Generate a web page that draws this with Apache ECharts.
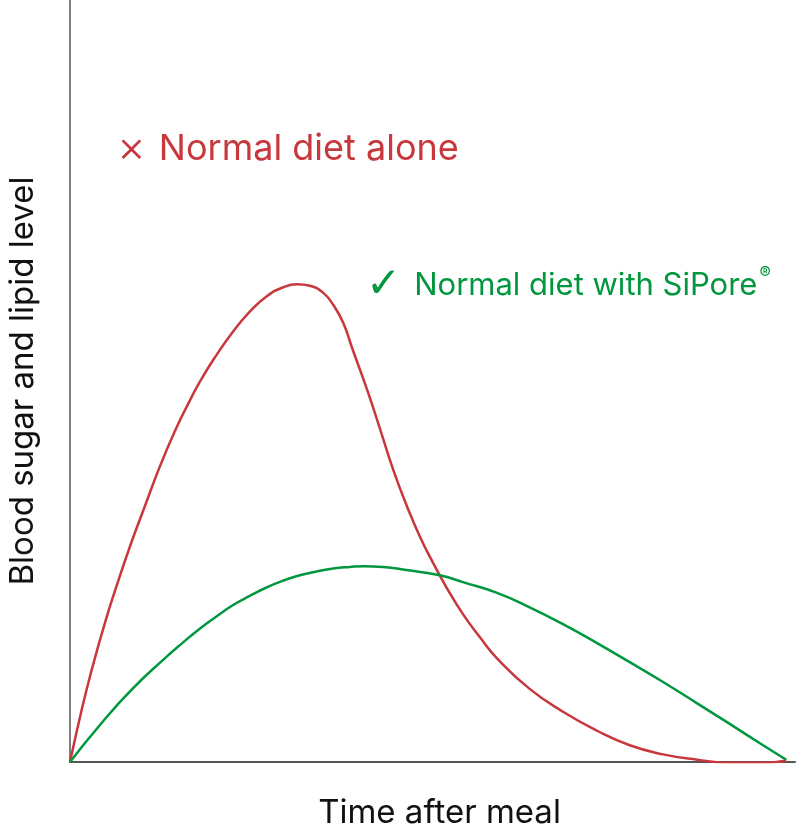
<!DOCTYPE html>
<html>
<head>
  <meta charset="UTF-8">
  <title>Blood sugar and lipid level after meal</title>
  <style>
    html, body { margin: 0; padding: 0; background: #fff; }
    #chart { width: 800px; height: 832px; }
  </style>
  <script src="https://cdn.jsdelivr.net/npm/echarts@6/dist/echarts.min.js"></script>
</head>
<body>
  <div id="chart"></div>
  <script>
    // time after meal (0-100) and level (0-100)
    var normalTime = [0, 1.6, 3.0, 4.8, 6.7, 8.5, 10.3, 12.4, 14.7, 16.3, 17.9, 20.2, 22.5, 24.8, 27.1, 29.4, 31.3, 33.1, 34.9, 36.3, 37.7, 39.0, 41.0, 42.8, 44.6, 46.5, 48.3, 50.1, 52.0, 54.2, 56.6, 58.9, 63.4, 68.0, 72.7, 77.2, 81.8, 86.5, 91.0, 95.6, 98.8];
    var normalLevel = [0, 6.8, 12.1, 18.2, 23.9, 28.9, 33.5, 38.8, 43.9, 47.0, 49.9, 53.4, 56.5, 59.1, 61.1, 62.3, 62.7, 62.5, 61.6, 60.0, 57.6, 54.1, 48.8, 43.6, 38.3, 33.5, 29.5, 26.1, 22.8, 19.4, 16.3, 13.6, 9.6, 6.6, 4.1, 2.2, 1.0, 0.3, -0.1, -0.1, 0.2];

    var siporeTime = [0, 3.9, 8.5, 13.3, 15.6, 17.9, 20.2, 22.5, 24.8, 27.1, 29.4, 31.7, 34.0, 36.3, 38.6, 40.5, 43.2, 46.4, 51.0, 54.2, 58.9, 63.4, 68.0, 72.7, 77.2, 81.8, 86.5, 91.0, 95.6, 98.8];
    var siporeLevel = [0, 4.6, 9.5, 13.8, 15.7, 17.5, 19.1, 20.6, 21.8, 22.9, 23.8, 24.5, 25.0, 25.4, 25.6, 25.7, 25.6, 25.2, 24.5, 23.6, 22.2, 20.3, 18.1, 15.6, 13.1, 10.5, 7.7, 5.0, 2.2, 0.3];

    var xName = 'Time after meal';
    var yName = 'Blood sugar and lipid level';
    var normalLabel = 'Normal diet alone';
    var siporeLabel = 'Normal diet with SiPore';

    function pairs(xs, ys) {
      var res = [];
      for (var i = 0; i < xs.length; i++) {
        res.push([xs[i], ys[i]]);
      }
      return res;
    }

    var red = '#c8373b';
    var green = '#00973e';
    var font = 'Inter, Roboto, sans-serif';

    var myChart = echarts.init(document.getElementById('chart'));
    var option = {
      backgroundColor: '#fff',
      animation: false,
      grid: { left: 70, right: 5, top: 0, bottom: 70, outerBoundsMode: 'none', containLabel: false },
      xAxis: {
        type: 'value',
        min: 0,
        max: 100,
        name: xName,
        nameLocation: 'middle',
        nameGap: 35,
        nameTextStyle: { color: '#111', fontSize: 33, fontFamily: font, padding: [0, 0, 0, 14] },
        axisLine: { show: true, lineStyle: { color: '#555', width: 2 } },
        axisTick: { show: false },
        axisLabel: { show: false },
        splitLine: { show: false }
      },
      yAxis: {
        type: 'value',
        min: 0,
        max: 100,
        name: yName,
        nameLocation: 'middle',
        nameGap: 30,
        nameTextStyle: { color: '#111', fontSize: 33, fontFamily: font },
        axisLine: { show: true, lineStyle: { color: '#555', width: 1.5 } },
        axisTick: { show: false },
        axisLabel: { show: false },
        splitLine: { show: false }
      },
      graphic: [
        {
          type: 'text',
          left: 117,
          top: 127,
          style: {
            text: '{m|×} ' + normalLabel,
            fill: red,
            font: '36px ' + font,
            rich: {
              m: { fontSize: 44, fontFamily: font, fontWeight: 300, fill: red, padding: [0, 3, 0, 0] }
            }
          }
        },
        {
          type: 'text',
          left: 366,
          top: 265,
          style: {
            text: '{m|✓}' + siporeLabel + '{r|®}',
            fill: green,
            font: '31px ' + font,
            rich: {
              m: { fontSize: 42, fontFamily: '"DejaVu Sans", sans-serif', fill: green, padding: [0, 13, 0, 0] },
              r: { fontSize: 17, fontFamily: font, fill: green, verticalAlign: 'top', padding: [0, 0, 14, 2] }
            }
          }
        }
      ],
      series: [
        {
          name: normalLabel,
          type: 'line',
          smooth: 0.5,
          showSymbol: false,
          lineStyle: { color: red, width: 2.5 },
          data: pairs(normalTime, normalLevel)
        },
        {
          name: siporeLabel,
          type: 'line',
          smooth: 0.5,
          showSymbol: false,
          lineStyle: { color: green, width: 2.5 },
          data: pairs(siporeTime, siporeLevel)
        }
      ]
    };
    myChart.setOption(option);
  </script>
</body>
</html>
